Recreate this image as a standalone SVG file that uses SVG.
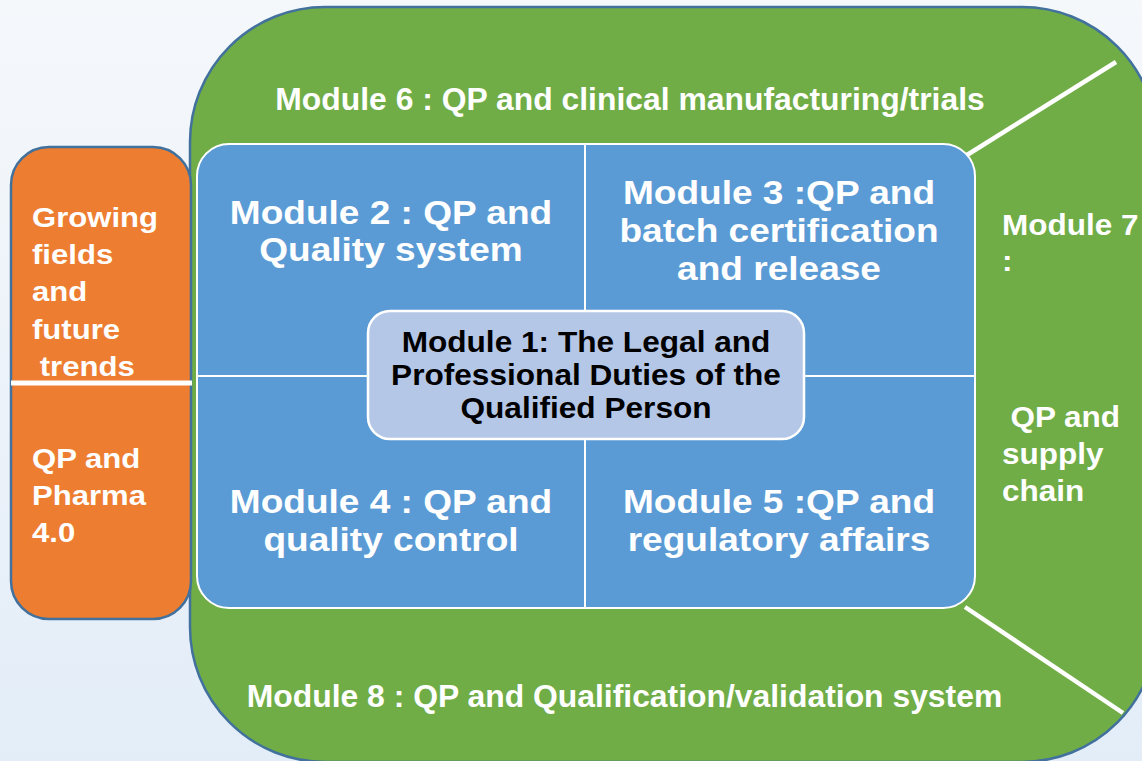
<svg xmlns="http://www.w3.org/2000/svg" width="1142" height="761" viewBox="0 0 1142 761">
  <defs>
    <linearGradient id="bg" x1="0" y1="0" x2="0" y2="1">
      <stop offset="0" stop-color="#F5F8FB"/>
      <stop offset="1" stop-color="#E3EDF8"/>
    </linearGradient>
  </defs>
  <style>
    text { font-family: "Liberation Sans", Arial, sans-serif; font-weight: bold; }
    .w { fill: #FFFFFF; }
    .k { fill: #000000; }
    .mid { text-anchor: middle; }
    .outer { fill: #70AD47; stroke: #41719C; stroke-width: 2.5; }
    .orange { fill: #ED7D31; stroke: #41719C; stroke-width: 2.5; }
    .blue { fill: #5B9BD5; stroke: #FFFFFF; stroke-width: 2; }
    .core { fill: #B4C7E7; stroke: #FFFFFF; stroke-width: 2.5; }
    .sep { stroke: #FFFFFF; fill: none; }
  </style>
  <rect x="0" y="0" width="1142" height="761" fill="url(#bg)"/>

  <g id="outer-ring">
    <rect class="outer" x="190" y="7" width="967" height="755" rx="135" ry="135"/>
    <g id="module6" transform="translate(630,0) scale(1.045,1)">
      <text class="w mid" x="0" y="110" font-size="30.5">Module 6 : QP and clinical manufacturing/trials</text>
    </g>
    <g id="module8" transform="translate(624.5,0) scale(1.045,1)">
      <text class="w mid" x="0" y="707" font-size="30.5">Module 8 : QP and Qualification/validation system</text>
    </g>
    <g id="module7" transform="translate(1002,0) scale(1.05,1)">
      <text class="w" x="0" y="235" font-size="30">Module 7</text>
      <text class="w" x="0" y="271" font-size="30">:</text>
      <text class="w" x="8" y="427" font-size="30">QP and</text>
      <text class="w" x="0" y="464" font-size="30">supply</text>
      <text class="w" x="0" y="501" font-size="30">chain</text>
    </g>
  </g>

  <g id="growing-fields">
    <rect class="orange" x="11" y="147" width="180" height="472" rx="38" ry="38"/>
    <g transform="translate(32,0) scale(1.11,1)">
      <text class="w" x="0" y="227" font-size="28">Growing</text>
      <text class="w" x="0" y="264" font-size="28">fields</text>
      <text class="w" x="0" y="301" font-size="28">and</text>
      <text class="w" x="0" y="339" font-size="28">future</text>
      <text class="w" x="7" y="376" font-size="28">trends</text>
    </g>
  </g>
  <g id="pharma40">
    <g transform="translate(32,0) scale(1.11,1)">
      <text class="w" x="0" y="468" font-size="28">QP and</text>
      <text class="w" x="0" y="505" font-size="28">Pharma</text>
      <text class="w" x="0" y="542" font-size="28">4.0</text>
    </g>
  </g>

  <g id="core-block">
    <rect class="blue" x="197" y="144" width="778" height="464" rx="32" ry="32"/>
  </g>

  <g id="connectors">
    <line class="sep" x1="11" y1="383" x2="192" y2="383" stroke-width="5"/>
    <line class="sep" x1="585" y1="145" x2="585" y2="607" stroke-width="2"/>
    <line class="sep" x1="198" y1="376" x2="974" y2="376" stroke-width="2"/>
    <line class="sep" x1="967" y1="155" x2="1116" y2="62" stroke-width="4.5"/>
    <line class="sep" x1="965" y1="607" x2="1123" y2="713" stroke-width="4.5"/>
  </g>

  <g id="module2" transform="translate(391,0) scale(1.09,1)">
    <text class="w mid" x="0" y="224" font-size="34">Module 2 : QP and</text>
    <text class="w mid" x="0" y="261" font-size="34">Quality system</text>
  </g>
  <g id="module3" transform="translate(779,0) scale(1.09,1)">
    <text class="w mid" x="0" y="204" font-size="34">Module 3 :QP and</text>
    <text class="w mid" x="0" y="242" font-size="34">batch certification</text>
    <text class="w mid" x="0" y="280" font-size="34">and release</text>
  </g>
  <g id="module4" transform="translate(391,0) scale(1.09,1)">
    <text class="w mid" x="0" y="513" font-size="34">Module 4 : QP and</text>
    <text class="w mid" x="0" y="551" font-size="34">quality control</text>
  </g>
  <g id="module5" transform="translate(779,0) scale(1.09,1)">
    <text class="w mid" x="0" y="513" font-size="34">Module 5 :QP and</text>
    <text class="w mid" x="0" y="551" font-size="34">regulatory affairs</text>
  </g>

  <g id="module1">
    <rect class="core" x="368" y="311" width="436" height="128" rx="22" ry="22"/>
    <g transform="translate(586,0) scale(1.09,1)">
      <text class="k mid" x="0" y="352" font-size="29">Module 1: The Legal and</text>
      <text class="k mid" x="0" y="385" font-size="29">Professional Duties of the</text>
      <text class="k mid" x="0" y="418" font-size="29">Qualified Person</text>
    </g>
  </g>
</svg>
